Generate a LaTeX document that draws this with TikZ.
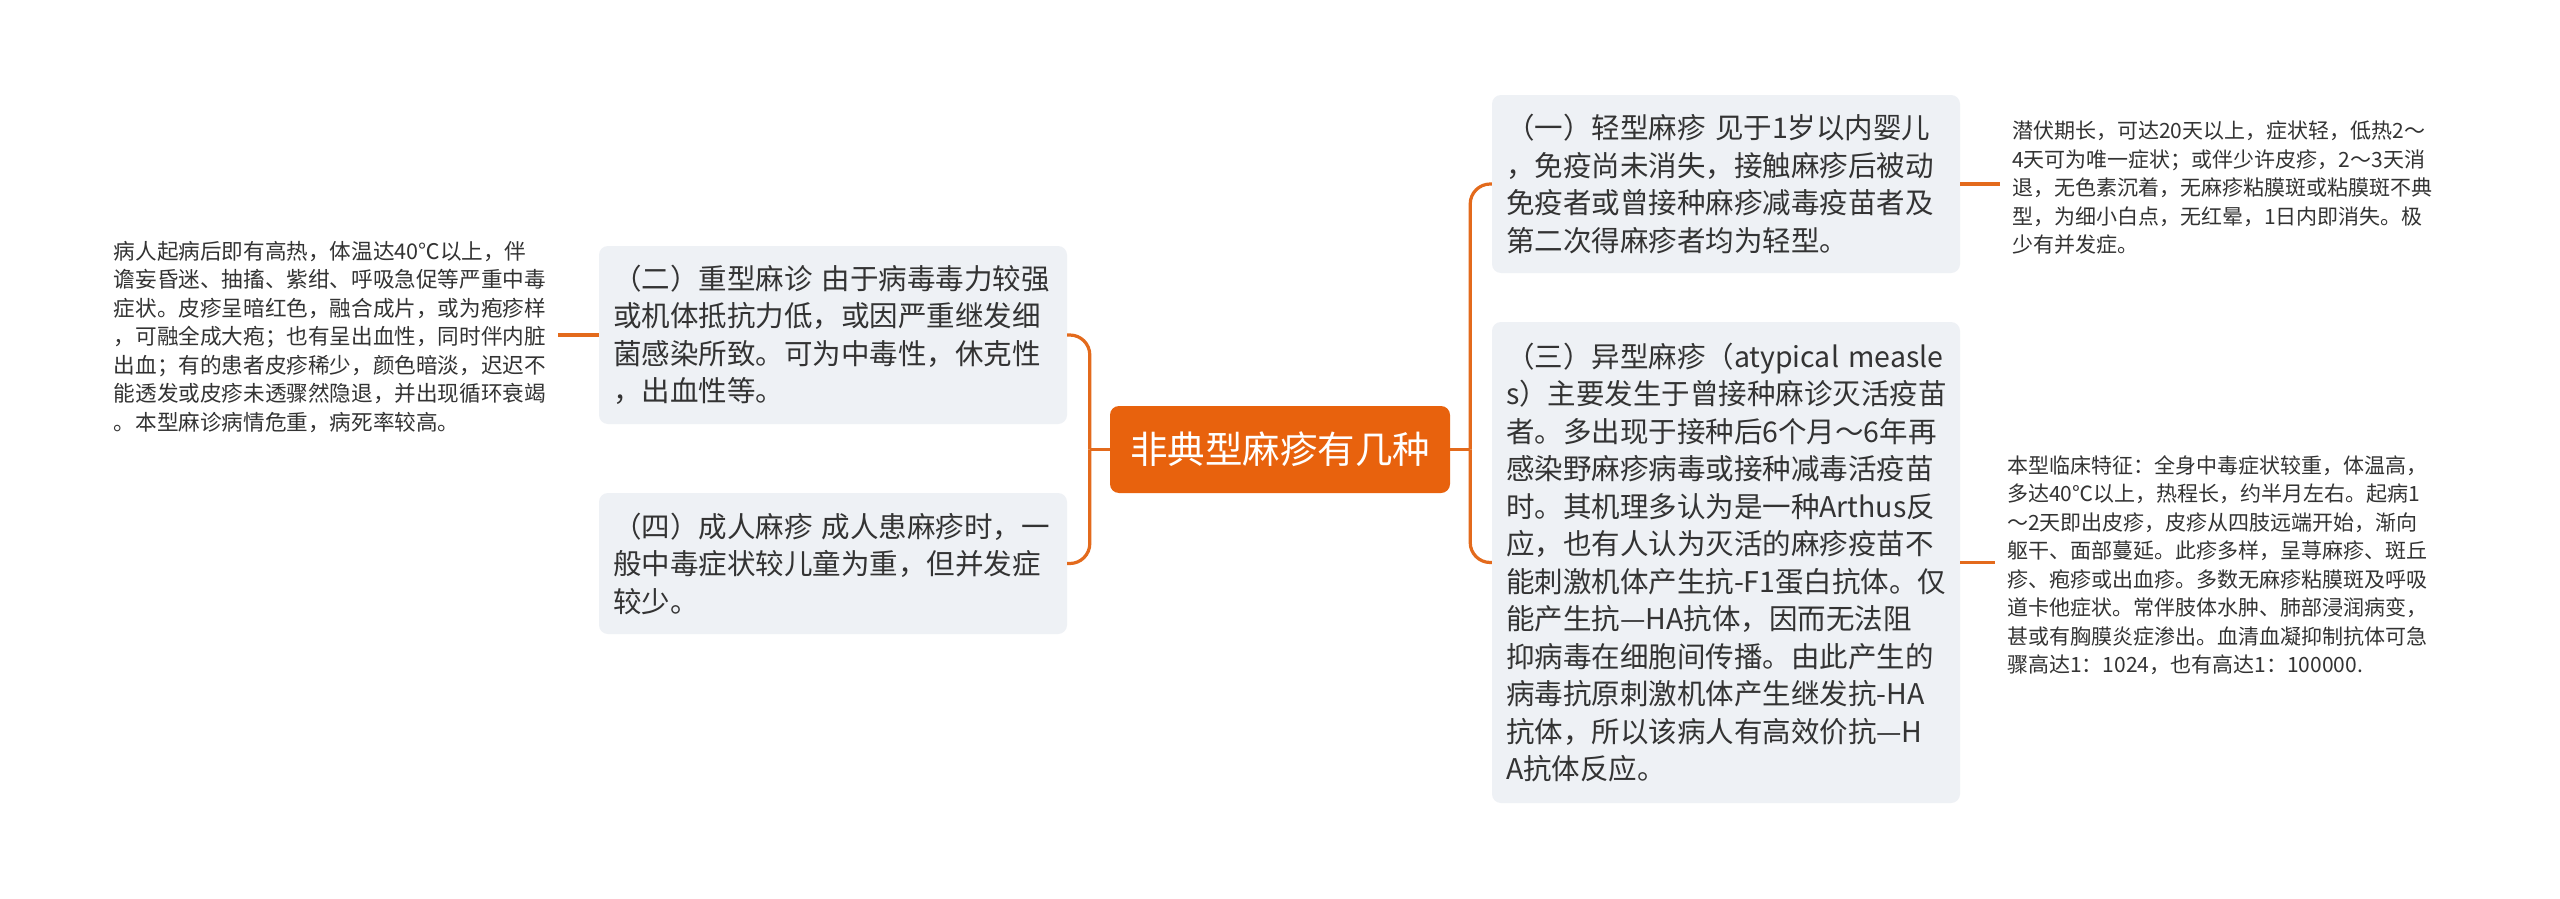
\documentclass[tikz,border=0pt]{standalone}
\usepackage{fontspec}
\setmainfont{Noto Sans CJK SC}
\usetikzlibrary{calc}
\definecolor{mainor}{HTML}{E8620D}
\definecolor{connor}{HTML}{E36A1C}
\definecolor{boxfill}{HTML}{EEF1F5}
\definecolor{txt}{HTML}{333333}
\begin{document}
\begin{tikzpicture}[x=1pt,y=-1pt,
  conn/.style={draw=connor,line width=3.2pt},
  topic/.style={fill=mainor,rounded corners=9pt,text=white,minimum width=340pt,minimum height=87pt,inner sep=0pt,font=\fontsize{37.5}{40}\selectfont},
  subbox/.style={fill=boxfill,rounded corners=9pt,text=txt,align=left,text width=440pt,inner xsep=14pt,inner ysep=0pt,minimum width=468pt,font=\fontsize{28.5}{37.5}\selectfont},
  leaf/.style={text=txt,align=left,inner xsep=12pt,inner ysep=0pt,font=\fontsize{21}{28.5}\selectfont}]
\useasboundingbox[fill=white] (0,0) rectangle (2560,899);
\node[topic] (c) at (1280,449.5) {非典型麻疹有几种};
\node[subbox,minimum height=178pt] (b2) at (833,335) {（二）重型麻诊 由于病毒毒力较强\\或机体抵抗力低，或因严重继发细\\菌感染所致。可为中毒性，休克性\\，出血性等。};
\node[subbox,minimum height=141pt] (b4) at (833,563.5) {（四）成人麻疹 成人患麻疹时，一\\般中毒症状较儿童为重，但并发症\\较少。};
\node[subbox,minimum height=178pt] (b1) at (1726,184) {（一）轻型麻疹 见于1岁以内婴儿\\，免疫尚未消失，接触麻疹后被动\\免疫者或曾接种麻疹减毒疫苗者及\\第二次得麻疹者均为轻型。};
\node[subbox,minimum height=481pt] (b3) at (1726,562.5) {（三）异型麻疹（atypical measle\\s）主要发生于曾接种麻诊灭活疫苗\\者。多出现于接种后6个月～6年再\\感染野麻疹病毒或接种减毒活疫苗\\时。其机理多认为是一种Arthus反\\应，也有人认为灭活的麻疹疫苗不\\\mbox{能刺激机体产生抗-F1蛋白抗体。仅}\\能产生抗—HA抗体，因而无法阻\\抑病毒在细胞间传播。由此产生的\\\mbox{病毒抗原刺激机体产生继发抗-HA}\\抗体，所以该病人有高效价抗—H\\A抗体反应。};
\node[leaf,anchor=east,font=\fontsize{21.6}{28.5}\selectfont] (l2) at (558,337) {病人起病后即有高热，体温达40℃以上，伴\\谵妄昏迷、抽搐、紫绀、呼吸急促等严重中毒\\症状。皮疹呈暗红色，融合成片，或为疱疹样\\，可融全成大疱；也有呈出血性，同时伴内脏\\出血；有的患者皮疹稀少，颜色暗淡，迟迟不\\能透发或皮疹未透骤然隐退，并出现循环衰竭\\。本型麻诊病情危重，病死率较高。};
\node[leaf,anchor=west] (l1) at (2000,188) {潜伏期长，可达20天以上，症状轻，低热2～\\4天可为唯一症状；或伴少许皮疹，2～3天消\\退，无色素沉着，无麻疹粘膜斑或粘膜斑不典\\型，为细小白点，无红晕，1日内即消失。极\\少有并发症。};
\node[leaf,anchor=west] (l3) at (1995,565) {本型临床特征：全身中毒症状较重，体温高，\\多达40℃以上，热程长，约半月左右。起病1\\～2天即出皮疹，皮疹从四肢远端开始，渐向\\躯干、面部蔓延。此疹多样，呈荨麻疹、斑丘\\疹、疱疹或出血疹。多数无麻疹粘膜斑及呼吸\\道卡他症状。常伴肢体水肿、肺部浸润病变，\\甚或有胸膜炎症渗出。血清血凝抑制抗体可急\\骤高达1：1024，也有高达1：100000.};
\coordinate (jl) at ([xshift=-20pt]c.west);
\coordinate (jr) at ([xshift=20pt]c.east);
\draw[conn] (c.west) -- (jl);
\draw[conn,rounded corners=20pt] (jl) |- (b2.east);
\draw[conn,rounded corners=20pt] (jl) |- (b4.east);
\draw[conn] (c.east) -- (jr);
\draw[conn,rounded corners=20pt] (jr) |- (b1.west);
\draw[conn,rounded corners=20pt] (jr) |- (b3.west);
\draw[conn] (b2.west) -- (b2.west -| l2.east);
\draw[conn] (b1.east) -- (b1.east -| l1.west);
\draw[conn] (b3.east) -- (b3.east -| l3.west);
\end{tikzpicture}
\end{document}
